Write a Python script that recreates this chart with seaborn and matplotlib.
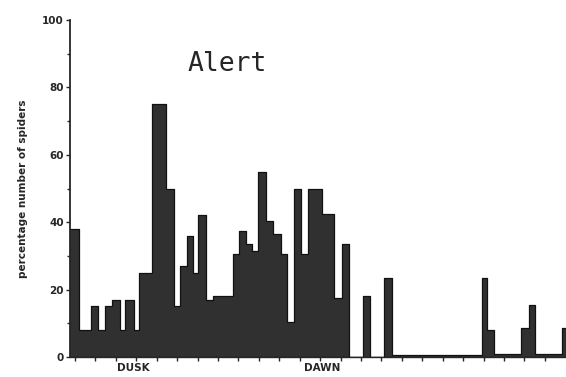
import numpy as np
import pandas as pd
import matplotlib
matplotlib.use("Agg")
import matplotlib.pyplot as plt
import seaborn as sns

# Interval edges (hours from first tick) and percentage of spiders alert in each interval
interval_edges = [-0.31, 0.18, 0.78, 1.14, 1.48, 1.80, 2.20, 2.46, 2.87, 3.12, 3.77,
                  4.45, 4.85, 5.14, 5.47, 5.76, 6.04, 6.41, 6.74, 7.75, 8.03, 8.37,
                  8.65, 8.97, 9.35, 9.71, 10.07, 10.39, 10.72, 11.05, 11.39, 12.08,
                  12.68, 13.05, 13.43, 14.08, 14.44, 15.12, 15.50, 19.91, 20.15,
                  20.51, 21.83, 22.22, 22.52, 23.84, 24.03]
percent_alert = [38, 8, 15, 8, 15, 17, 8, 17, 8, 25,
                 75, 50, 15, 27, 36, 25, 42, 17, 18, 30.5,
                 37.5, 33.5, 31.5, 55, 40.5, 36.5, 30.5, 10.5, 50, 30.5,
                 50, 42.5, 17.5, 33.5, 0, 18, 0, 23.5, 0.5, 23.5,
                 8, 0.8, 8.5, 15.5, 1, 8.5]

hour_ticks = list(range(24))
y_ticks = [0, 20, 40, 60, 80, 100]
phase_labels = ["DUSK", "DAWN"]
phase_positions = [2.84, 12.09]
title_text = "Alert"

sns.set_style("ticks")
plt.rcParams['font.family'] = ['DejaVu Sans']

fig = plt.figure(figsize=(5.66, 3.77), dpi=100)
ax = fig.add_axes([0.1237, 0.053, 0.876, 0.894])

edges = [float(e) for e in interval_edges]
df = pd.DataFrame({
    "time": [(a + b) / 2 for a, b in zip(edges[:-1], edges[1:])],
    "pct": [float(v) for v in percent_alert],
})
sns.histplot(data=df, x="time", weights="pct", bins=edges, stat="count",
             element="step", fill=True,
             color="#303030", alpha=1.0, edgecolor="#111111", linewidth=0.9, ax=ax)

ax.set_xlim(-0.245, 24.03)
ax.set_ylim(0, 100)
ax.set_xticks(hour_ticks)
ax.set_xticklabels([])
ax.set_yticks(y_ticks)
ax.set_yticklabels([str(v) for v in y_ticks], fontsize=7.5, fontweight="bold")
ax.set_yticks(np.arange(10, 100, 20), minor=True)
ax.tick_params(axis="y", which="major", direction="out", length=3, width=1, pad=1.5)
ax.tick_params(axis="y", which="minor", direction="out", length=2.5, width=1)
ax.tick_params(axis="x", which="major", direction="out", length=3, width=1)
ax.set_xlabel("")
ax.set_ylabel("percentage number of spiders", fontsize=7.5, fontweight="bold", labelpad=10)

for s in ["top", "right"]:
    ax.spines[s].set_visible(False)
ax.spines["left"].set_linewidth(1.3)
ax.spines["bottom"].set_linewidth(1.0)

for lab, pos in zip(phase_labels, phase_positions):
    ax.text(pos, -0.033, lab, transform=ax.get_xaxis_transform(), ha="center", va="center",
            fontsize=7.5, fontweight="bold")

ax.text(7.46, 87, title_text, ha="center", va="center", fontsize=19,
        family="DejaVu Sans Mono")

fig.savefig("out.png", dpi=100)
